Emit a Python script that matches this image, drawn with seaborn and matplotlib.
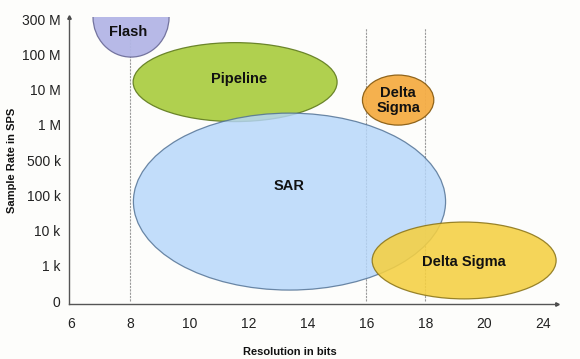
import matplotlib
matplotlib.use("Agg")
import matplotlib.pyplot as plt
from matplotlib.patches import Ellipse
import seaborn as sns
import pandas as pd

# ---- data ----
x_tick_labels = ["6", "8", "10", "12", "14", "16", "18", "20", "24"]
x_tick_pos = [6, 8, 10, 12, 14, 16, 18, 20, 22]
y_tick_labels = ["0", "1 k", "10 k", "100 k", "500 k", "1 M", "10 M", "100 M", "300 M"]

families = ["Flash", "Pipeline", "Delta\nSigma", "SAR", "Delta Sigma"]
res_lo = [6.73, 8.09, 15.87, 8.10, 16.20]
res_hi = [9.31, 15.01, 18.29, 18.69, 22.44]
rate_lo = [6.92, 5.09, 4.99, 0.31, 0.06]
rate_hi = [9.19, 7.33, 6.41, 5.33, 2.24]
label_x = [7.92, 11.68, 17.08, 13.39, 19.32]
label_y = [7.63, 6.30, 5.70, 3.26, 1.11]
fills = ["#b3b6e6", "#a8cc3c", "#f5ad45", "#b5d6fa", "#f5d042"]
edges = ["#6e6e9a", "#5f7a1e", "#8a5e14", "#4f6f92", "#8a7418"]

guide_x = [8, 16, 18]
guide_top = 7.74

sns.set_theme(style="white")
plt.rcParams["font.family"] = ["Liberation Sans", "DejaVu Sans"]

fig = plt.figure(figsize=(5.8, 3.59), dpi=100, facecolor="#fdfdfb")
ax = fig.add_axes([69 / 580, 1 - 304 / 359, (557 - 69) / 580, (304 - 17) / 359])
ax.set_facecolor("#fdfdfb")

# guide lines
gl = pd.DataFrame({
    "x": [v for v in guide_x for _ in range(2)],
    "y": [0, guide_top] * len(guide_x),
    "g": [i for i in range(len(guide_x)) for _ in range(2)],
})
sns.lineplot(data=gl, x="x", y="y", units="g", estimator=None, ax=ax,
             color="#9a9a9a", lw=0.8, linestyle=(0, (2, 1)), zorder=1)
ax.set_xlabel("")
ax.set_ylabel("")

order = [0, 1, 3, 2, 4]
alphas = [0.95, 0.9, 0.95, 0.82, 0.88]
for i in order:
    cx = (res_lo[i] + res_hi[i]) / 2
    cy = (rate_lo[i] + rate_hi[i]) / 2
    e = Ellipse((cx, cy), res_hi[i] - res_lo[i], rate_hi[i] - rate_lo[i],
                facecolor=fills[i], edgecolor=edges[i], lw=0.9, alpha=alphas[i],
                zorder=2 + order.index(i))
    ax.add_patch(e)
    ax.text(label_x[i], label_y[i], families[i], ha="center", va="center",
            fontsize=10.5, fontweight="bold", color="#111111",
            linespacing=1.1, zorder=10)

ax.set_xlim(5.915, 22.47)
ax.set_ylim(-0.085, 8.057)
ax.set_xticks(x_tick_pos)
ax.set_xticklabels(x_tick_labels)
ax.set_yticks(range(len(y_tick_labels)))
ax.set_yticklabels(y_tick_labels)
ax.tick_params(axis="both", length=0, labelsize=10, labelcolor="#222222")
ax.tick_params(axis="x", pad=9)
ax.tick_params(axis="y", pad=6)

for s in ["top", "right"]:
    ax.spines[s].set_visible(False)
for s in ["left", "bottom"]:
    ax.spines[s].set_color("#555555")
    ax.spines[s].set_linewidth(1.0)
ax.plot(1, 0, ">", transform=ax.transAxes, clip_on=False, color="#444444", ms=2.5)
ax.plot(0, 1, "^", transform=ax.transAxes, clip_on=False, color="#444444", ms=2.5)

fig.text(290 / 580, 1 - 352 / 359, "Resolution in bits", ha="center", va="center",
         fontsize=8, fontweight="bold", color="#111111")
fig.text(12 / 580, 1 - 160 / 359, "Sample Rate in SPS", ha="center", va="center",
         rotation=90, fontsize=8, fontweight="bold", color="#111111")

fig.savefig("out.png", dpi=100, facecolor=fig.get_facecolor())
